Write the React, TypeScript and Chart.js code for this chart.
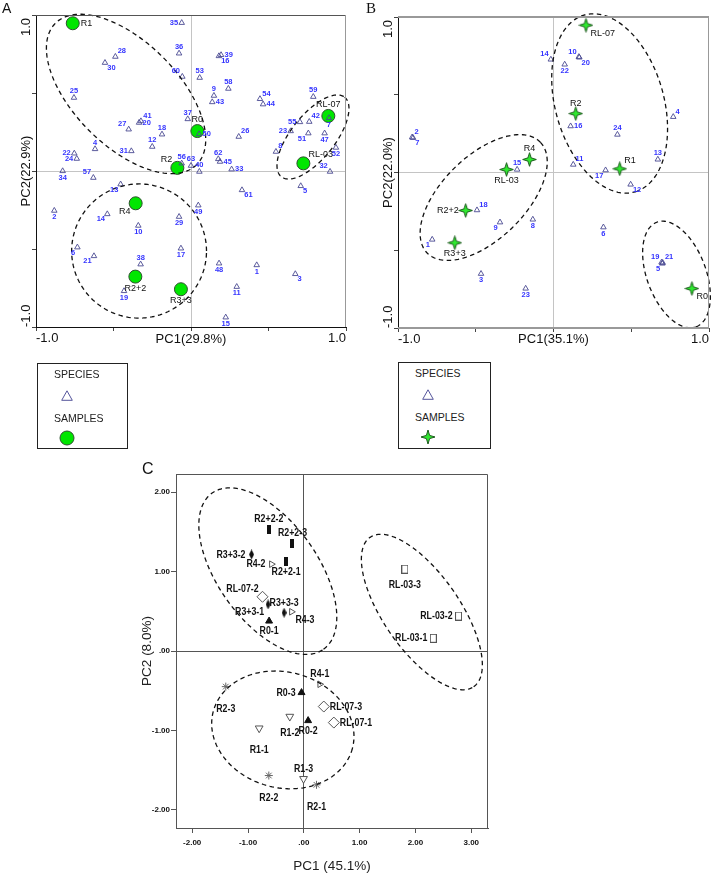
import React, { useEffect, useRef } from "react";
import { Chart, registerables } from "chart.js";
Chart.register(...registerables);

const SANS = "'Liberation Sans', Arial, sans-serif";
const SERIF = "'Liberation Serif', 'Times New Roman', serif";

// ---------------- Panel A data ----------------
const speciesANames = ["1","2","3","4","5","6","7","8","9","10","11","12","13","14","15","16","17","18","19","20","21","22","23","24","25","26","27","28","29","30","31","32","33","34","35","36","37","38","39","40","41","42","43","44","45","47","48","49","50","51","52","53","54","55","56","57","58","59","60","61","62","63"];
const speciesAX = [0.424,-0.882,0.673,-0.619,0.708,-0.733,0.89,0.548,0.148,-0.34,0.295,-0.25,-0.454,-0.54,0.224,0.18,-0.065,-0.187,-0.432,-0.335,-0.626,-0.753,0.643,-0.737,-0.755,0.308,-0.402,-0.488,-0.077,-0.555,-0.385,0.897,0.262,-0.828,-0.06,-0.077,-0.021,-0.325,0.194,0.054,-0.323,0.763,0.137,0.465,0.187,0.862,0.181,0.047,0.052,0.757,0.935,0.056,0.445,0.703,-0.06,-0.63,0.241,0.789,-0.056,0.329,0.176,0.0];
const speciesAY = [-0.603,-0.254,-0.66,0.141,-0.096,-0.489,0.34,0.124,0.483,-0.35,-0.742,0.156,-0.085,-0.276,-0.938,0.737,-0.496,0.235,-0.769,0.31,-0.545,0.113,0.256,0.079,0.47,0.22,0.267,0.733,-0.293,0.694,0.128,-0.004,0.011,0.0,0.95,0.754,0.333,-0.598,0.744,-0.004,0.32,0.316,0.442,0.428,0.06,0.242,-0.592,-0.22,0.237,0.242,0.15,0.598,0.462,0.314,0.049,-0.043,0.528,0.476,0.605,-0.122,0.077,0.034];
const speciesALabelPos = ["b","b","br","a","br","bl","b","ar","a","b","b","a","bl","bl","b","br","b","a","b","r","bl","l","l","l","a","ar","al","ar","b","br","l","al","r","b","l","a","a","a","r","a","ar","ar","r","r","r","b","b","b","r","bl","b","a","ar","l","a","al","a","a","al","br","a","a"];
const samplesANames = ["R1","R0","R2","RL-07","RL-03","R4","R2+2","R3+3"];
const samplesAX = [-0.763,0.041,-0.088,0.886,0.725,-0.357,-0.359,-0.065];
const samplesAY = [0.947,0.256,0.02,0.353,0.049,-0.207,-0.677,-0.758];
const samplesALabelPos = ["r","a","al","a","ar","bl","b","b"];
// ellipse: centre x, centre y, first semi-axis (x,y), second semi-axis (x,y) in data units
const ellipseA1 = [-0.419,0.494,0.456,-0.453,-0.237,-0.236];
const ellipseA2 = [-0.335,-0.513,0.435,0,0,0.43];
const ellipseA3 = [0.787,0.218,0.204,0.255,0.111,-0.087];
const axisTicksAB = [-1,1];
const axisTickLabelsAB = ["-1.0","1.0"];

// ---------------- Panel B data ----------------
const speciesBNames = ["1","2","3","4","5","6","7","8","9","10","11","12","13","14","15","16","17","18","19","20","21","22","23","24"];
const speciesBX = [-0.78,-0.909,-0.466,0.77,0.7,0.321,-0.903,-0.133,-0.344,0.163,0.127,0.496,0.671,-0.017,-0.234,0.11,0.335,-0.492,0.695,0.166,0.702,0.072,-0.179,0.411];
const speciesBY = [-0.431,0.227,-0.651,0.358,-0.585,-0.352,0.223,-0.302,-0.32,0.744,0.051,-0.077,0.084,0.727,0.019,0.298,0.015,-0.242,-0.578,0.74,-0.58,0.695,-0.746,0.244];
const speciesBLabelPos = ["bl","ar","b","ar","bl","b","br","b","bl","al","ar","br","a","al","a","r","bl","ar","al","br","ar","b","b","a"];
const samplesBNames = ["RL-07","R2","R4","RL-03","R1","R2+2","R3+3","R0"];
const samplesBX = [0.209,0.143,-0.154,-0.302,0.426,-0.565,-0.635,0.89];
const samplesBY = [0.947,0.379,0.084,0.019,0.024,-0.244,-0.452,-0.746];
const samplesBLabelPos = ["br","a","a","b","ar","l","b","br"];
const ellipseB1 = [-0.449,-0.161,0.365,0.355,0.184,-0.194];
const ellipseB2 = [0.361,0.444,0.165,-0.568,0.334,0.1];
const ellipseB3 = [0.791,-0.656,0.127,-0.336,0.177,0.069];

// ---------------- Panel C data ----------------
const groupR22Names = ["R2+2-1","R2+2-2","R2+2-3"];
const groupR22X = [-0.317,-0.627,-0.203];
const groupR22Y = [1.123,1.535,1.355];
const groupR22Pos = ["b","a","a"];
const groupR33Names = ["R3+3-1","R3+3-2","R3+3-3"];
const groupR33X = [-0.64,-0.937,-0.353];
const groupR33Y = [0.587,1.216,0.482];
const groupR33Pos = ["bl","l","a"];
const groupR4Names = ["R4-1","R4-2","R4-3"];
const groupR4X = [0.287,-0.579,-0.22];
const groupR4Y = [-0.419,1.094,0.494];
const groupR4Pos = ["a","l","br"];
const groupRL07Names = ["RL-07-1","RL-07-2","RL-07-3"];
const groupRL07X = [0.538,-0.74,0.358];
const groupRL07Y = [-0.902,0.683,-0.7];
const groupRL07Pos = ["r","al","r"];
const groupR0Names = ["R0-1","R0-2","R0-3"];
const groupR0X = [-0.622,0.077,-0.041];
const groupR0Y = [0.377,-0.877,-0.524];
const groupR0Pos = ["b","b","l"];
const groupRL03Names = ["RL-03-1","RL-03-2","RL-03-3"];
const groupRL03X = [2.32,2.772,1.81];
const groupRL03Y = [0.16,0.44,1.031];
const groupRL03Pos = ["l","l","bb"];
const groupR1Names = ["R1-1","R1-2","R1-3"];
const groupR1X = [-0.8,-0.251,-0.005];
const groupR1Y = [-0.973,-0.826,-1.61];
const groupR1Pos = ["bbb","bb","a"];
const groupR2Names = ["R2-1","R2-2","R2-3"];
const groupR2X = [0.227,-0.627,-1.398];
const groupR2Y = [-1.686,-1.569,-0.449];
const groupR2Pos = ["bbb","bbb","bbb"];
const ellipseC1 = [-0.645,1.006,0.998,-0.984,0.729,0.365];
const ellipseC2 = [2.115,0.491,0.928,-0.941,0.56,0.272];
const ellipseC3 = [-0.376,-0.994,1.246,-0.234,-0.269,-0.704];

// ---------------- helpers ----------------
const pts = (xs: number[], ys: number[]) => xs.map((x, i) => ({ x, y: ys[i] }));

function markerCanvas(w: number, h: number, draw: (g: CanvasRenderingContext2D) => void) {
  const c = document.createElement("canvas");
  c.width = w; c.height = h;
  draw(c.getContext("2d")!);
  return c;
}

const labelPlugin = {
  id: "pointLabels",
  afterDatasetsDraw(chart: any) {
    const ctx = chart.ctx;
    chart.data.datasets.forEach((ds: any, di: number) => {
      if (!ds.labels) return;
      const meta = chart.getDatasetMeta(di);
      const sx = ds.labelScaleX || 1;
      ctx.save();
      ctx.font = ds.labelFont;
      ctx.fillStyle = ds.labelColor;
      ctx.textBaseline = "middle";
      const g = ds.labelGap;
      const h = ds.labelHeight;
      meta.data.forEach((el: any, i: number) => {
        const pos = ds.labelPos[i];
        let x = el.x, y = el.y, align: CanvasTextAlign = "center";
        const d = g * 0.65;
        switch (pos) {
          case "a": y -= g + h / 2; break;
          case "b": y += g + h / 2; break;
          case "bb": y += 2 * g + h / 2; break;
          case "bbb": y += 3 * g + h / 2; break;
          case "l": x -= g; align = "right"; break;
          case "r": x += g; align = "left"; break;
          case "al": x -= d; y -= d + h / 2; align = "right"; break;
          case "ar": x += d; y -= d + h / 2; align = "left"; break;
          case "bl": x -= d; y += d + h / 2; align = "right"; break;
          case "br": x += d; y += d + h / 2; align = "left"; break;
        }
        ctx.textAlign = align;
        ctx.save();
        ctx.translate(x, y);
        ctx.scale(sx, 1);
        ctx.fillText(ds.labels[i], 0, 0);
        ctx.restore();
      });
      ctx.restore();
    });
  },
};

function ellipsePlugin(list: number[][]) {
  return {
    id: "ellipses",
    afterDatasetsDraw(chart: any) {
      const { ctx } = chart;
      const xs = chart.scales.x, ys = chart.scales.y;
      ctx.save();
      ctx.setLineDash([4.5, 3.5]);
      ctx.lineWidth = 1.3;
      ctx.strokeStyle = "#111";
      list.forEach((e) => {
        const [cx, cy, ux, uy, vx, vy] = e;
        ctx.beginPath();
        for (let k = 0; k <= 200; k++) {
          const t = (k / 200) * Math.PI * 2;
          const px = xs.getPixelForValue(cx + ux * Math.cos(t) + vx * Math.sin(t));
          const py = ys.getPixelForValue(cy + uy * Math.cos(t) + vy * Math.sin(t));
          if (k === 0) ctx.moveTo(px, py); else ctx.lineTo(px, py);
        }
        ctx.closePath();
        ctx.stroke();
      });
      ctx.restore();
    },
  };
}

function framePlugin(kind: "A" | "B" | "C", yLabelX: number) {
  return {
    id: "frame",
    afterDraw(chart: any) {
      const { ctx, chartArea: ca } = chart;
      const ys = chart.scales.y;
      ctx.save();
      ctx.setLineDash([]);
      if (kind === "A") {
        ctx.strokeStyle = "#555"; ctx.lineWidth = 1;
        ctx.beginPath(); ctx.moveTo(ca.left, ca.top + 0.5); ctx.lineTo(ca.right, ca.top + 0.5); ctx.stroke();
        ctx.strokeStyle = "#999";
        ctx.beginPath(); ctx.moveTo(ca.right - 0.5, ca.top); ctx.lineTo(ca.right - 0.5, ca.bottom); ctx.stroke();
      } else if (kind === "B") {
        ctx.strokeStyle = "#999"; ctx.lineWidth = 2;
        ctx.beginPath(); ctx.moveTo(ca.left, ca.top); ctx.lineTo(ca.right, ca.top); ctx.stroke();
        ctx.beginPath(); ctx.moveTo(ca.left, ca.bottom); ctx.lineTo(ca.right, ca.bottom); ctx.stroke();
        ctx.lineWidth = 1;
        ctx.beginPath(); ctx.moveTo(ca.right - 0.5, ca.top); ctx.lineTo(ca.right - 0.5, ca.bottom); ctx.stroke();
      } else {
        ctx.strokeStyle = "#555"; ctx.lineWidth = 1;
        ctx.beginPath(); ctx.moveTo(ca.left, ca.top + 0.5); ctx.lineTo(ca.right - 0.5, ca.top + 0.5); ctx.lineTo(ca.right - 0.5, ca.bottom); ctx.stroke();
      }
      if (kind !== "C") {
        ctx.fillStyle = "#111";
        ctx.font = `13px ${SANS}`;
        ctx.textBaseline = "middle";
        axisTicksAB.forEach((v, i) => {
          ctx.save();
          ctx.translate(yLabelX, ys.getPixelForValue(v));
          ctx.rotate(-Math.PI / 2);
          ctx.textAlign = v < 0 ? "left" : "right";
          ctx.fillText(axisTickLabelsAB[i], v < 0 ? 0 : -3, 0);
          ctx.restore();
        });
      }
      ctx.restore();
    },
  };
}

function abScales(xTitle: string, yTitle: string, yWidth: number, yTitlePad: number, xTitlePad: number, borderXColor: string, showXBorder: boolean) {
  const gridColor = (c: any) => (c.tick && c.tick.value === 0 ? "#c4c4c4" : "rgba(0,0,0,0)");
  return {
    x: {
      type: "linear", min: -1, max: 1,
      ticks: {
        stepSize: 0.5, autoSkip: false, maxRotation: 0, align: "inner", padding: 0,
        color: "#111", font: { family: SANS, size: 13 },
        callback: (v: number) => { const i = axisTicksAB.indexOf(v); return i >= 0 ? axisTickLabelsAB[i] : ""; },
      },
      grid: { color: gridColor, tickColor: "#444", tickLength: 4, lineWidth: 1 },
      border: { display: showXBorder, color: borderXColor, width: 1 },
      title: { display: true, text: xTitle, color: "#111", font: { family: SANS, size: 13 }, padding: { top: 0, bottom: xTitlePad } },
      afterFit: (s: any) => { s.height = 25; },
    },
    y: {
      type: "linear", min: -1, max: 1,
      ticks: { stepSize: 0.5, display: false },
      grid: { color: gridColor, tickColor: "#444", tickLength: 4, lineWidth: 1 },
      border: { display: true, color: "#111", width: 1 },
      title: { display: true, text: yTitle, color: "#111", font: { family: SANS, size: 13 }, padding: { top: yTitlePad, bottom: 0 } },
      afterFit: (s: any) => { s.width = yWidth; },
    },
  };
}

const baseOptions = {
  animation: false,
  responsive: false,
  maintainAspectRatio: false,
  devicePixelRatio: 1,
  events: [],
};

function buildA(): any {
  return {
    type: "scatter",
    data: {
      datasets: [
        {
          label: "SPECIES", data: pts(speciesAX, speciesAY),
          pointStyle: "triangle", pointRadius: 3.2, pointBorderWidth: 0.9,
          pointBorderColor: "#4a4a92", pointBackgroundColor: "rgba(255,255,255,0)",
          labels: speciesANames, labelPos: speciesALabelPos,
          labelFont: `bold 7.5px ${SANS}`, labelColor: "#3434ff", labelGap: 3.5, labelHeight: 6,
        },
        {
          label: "SAMPLES", data: pts(samplesAX, samplesAY),
          pointStyle: "circle", pointRadius: 6.5, pointBorderWidth: 1,
          pointBorderColor: "#2f4f2f", pointBackgroundColor: "#00e600",
          labels: samplesANames, labelPos: samplesALabelPos,
          labelFont: `9px ${SANS}`, labelColor: "#111", labelGap: 8, labelHeight: 7,
        },
      ],
    },
    options: {
      ...baseOptions,
      layout: { padding: { left: 0, top: 15, right: 14, bottom: 8 } },
      plugins: { legend: { display: false }, tooltip: { enabled: false } },
      scales: abScales("PC1(29.8%)", "PC2(22.9%)", 36, 18.2, 5.2, "#111", true),
    },
    plugins: [ellipsePlugin([ellipseA1, ellipseA2, ellipseA3]), labelPlugin, framePlugin("A", 26)],
  };
}

function starMarker() {
  return markerCanvas(15, 15, (g) => {
    g.beginPath();
    for (let k = 0; k < 8; k++) {
      const a = -Math.PI / 2 + (k * Math.PI) / 4;
      const r = k % 2 === 0 ? 6.8 : 2.3;
      g.lineTo(7.5 + r * Math.cos(a), 7.5 + r * Math.sin(a));
    }
    g.closePath();
    g.fillStyle = "#2fe82f"; g.fill();
    g.strokeStyle = "#1d5a1d"; g.lineWidth = 1; g.stroke();
  });
}

function buildB(): any {
  return {
    type: "scatter",
    data: {
      datasets: [
        {
          label: "SPECIES", data: pts(speciesBX, speciesBY),
          pointStyle: "triangle", pointRadius: 3.2, pointBorderWidth: 0.9,
          pointBorderColor: "#4a4a92", pointBackgroundColor: "rgba(255,255,255,0)",
          labels: speciesBNames, labelPos: speciesBLabelPos,
          labelFont: `bold 7.5px ${SANS}`, labelColor: "#3434ff", labelGap: 3.5, labelHeight: 6,
        },
        {
          label: "SAMPLES", data: pts(samplesBX, samplesBY),
          pointStyle: starMarker(), pointRadius: 7,
          labels: samplesBNames, labelPos: samplesBLabelPos,
          labelFont: `9px ${SANS}`, labelColor: "#111", labelGap: 7, labelHeight: 7,
        },
      ],
    },
    options: {
      ...baseOptions,
      layout: { padding: { left: 0, top: 17, right: 3, bottom: 7 } },
      plugins: { legend: { display: false }, tooltip: { enabled: false } },
      scales: abScales("PC1(35.1%)", "PC2(22.0%)", 38, 20.2, 6.2, "#999", false),
    },
    plugins: [ellipsePlugin([ellipseB1, ellipseB2, ellipseB3]), labelPlugin, framePlugin("B", 28)],
  };
}

function buildC(): any {
  const bar = markerCanvas(4, 9, (g) => { g.fillStyle = "#111"; g.fillRect(0, 0, 4, 9); });
  const thinDiamond = markerCanvas(5, 10, (g) => {
    g.beginPath(); g.moveTo(2.5, 0); g.lineTo(5, 5); g.lineTo(2.5, 10); g.lineTo(0, 5); g.closePath();
    g.fillStyle = "#111"; g.fill();
  });
  const openRect = markerCanvas(7, 9, (g) => {
    g.fillStyle = "#fff"; g.fillRect(0, 0, 7, 9);
    g.strokeStyle = "#555"; g.lineWidth = 1; g.strokeRect(0.5, 0.5, 6, 8);
  });
  const lab = { labelFont: `bold 11px ${SANS}`, labelScaleX: 0.8, labelColor: "#111", labelGap: 6, labelHeight: 8 };
  const open = { pointBackgroundColor: "#fff", pointBorderColor: "#555", pointBorderWidth: 1 };
  const tickFmt = (v: number) => (v === 0 ? ".00" : v.toFixed(2));
  const zeroGrid = (c: any) => (c.tick && c.tick.value === 0 ? "#555" : "rgba(0,0,0,0)");
  return {
    type: "scatter",
    data: {
      datasets: [
        { label: "R2+2", data: pts(groupR22X, groupR22Y), pointStyle: bar, pointRadius: 5, labels: groupR22Names, labelPos: groupR22Pos, ...lab },
        { label: "R3+3", data: pts(groupR33X, groupR33Y), pointStyle: thinDiamond, pointRadius: 5, labels: groupR33Names, labelPos: groupR33Pos, ...lab },
        { label: "R4", data: pts(groupR4X, groupR4Y), pointStyle: "triangle", rotation: 90, pointRadius: 3.8, ...open, labels: groupR4Names, labelPos: groupR4Pos, ...lab },
        { label: "RL-07", data: pts(groupRL07X, groupRL07Y), pointStyle: "rectRot", pointRadius: 5.5, ...open, labels: groupRL07Names, labelPos: groupRL07Pos, ...lab },
        { label: "R0", data: pts(groupR0X, groupR0Y), pointStyle: "triangle", pointRadius: 4, pointBackgroundColor: "#111", pointBorderColor: "#111", pointBorderWidth: 1, labels: groupR0Names, labelPos: groupR0Pos, ...lab },
        { label: "RL-03", data: pts(groupRL03X, groupRL03Y), pointStyle: openRect, pointRadius: 5, labels: groupRL03Names, labelPos: groupRL03Pos, ...lab },
        { label: "R1", data: pts(groupR1X, groupR1Y), pointStyle: "triangle", rotation: 180, pointRadius: 4.5, ...open, labels: groupR1Names, labelPos: groupR1Pos, ...lab },
        { label: "R2", data: pts(groupR2X, groupR2Y), pointStyle: "star", pointRadius: 4, pointBorderColor: "#666", pointBorderWidth: 1, labels: groupR2Names, labelPos: groupR2Pos, ...lab },
      ],
    },
    options: {
      ...baseOptions,
      layout: { padding: { left: 0, top: 14, right: 12, bottom: 1 } },
      plugins: { legend: { display: false }, tooltip: { enabled: false } },
      scales: {
        x: {
          type: "linear", min: -2.29, max: 3.3,
          ticks: { stepSize: 1, includeBounds: false, autoSkip: false, maxRotation: 0, padding: 5, color: "#111", font: { family: SANS, size: 8, weight: "bold" }, callback: tickFmt },
          grid: { color: zeroGrid, tickColor: "#555", tickLength: 5, lineWidth: 1 },
          border: { display: true, color: "#555", width: 1 },
          title: { display: true, text: "PC1 (45.1%)", color: "#222", font: { family: SANS, size: 13.5 }, padding: { top: 0, bottom: 0 } },
          afterFit: (s: any) => { s.height = 46; },
        },
        y: {
          type: "linear", min: -2.23, max: 2.23,
          ticks: { stepSize: 1, includeBounds: false, padding: 1, color: "#111", font: { family: SANS, size: 8, weight: "bold" }, callback: tickFmt },
          grid: { color: zeroGrid, tickColor: "#555", tickLength: 5, lineWidth: 1 },
          border: { display: true, color: "#555", width: 1 },
          title: { display: true, text: "PC2 (8.0%)", color: "#222", font: { family: SANS, size: 13.5 }, padding: { top: 19, bottom: 0 } },
          afterFit: (s: any) => { s.width = 56; },
        },
      },
    },
    plugins: [ellipsePlugin([ellipseC1, ellipseC2, ellipseC3]), labelPlugin, framePlugin("C", 0)],
  };
}

function ChartCanvas(props: { left: number; top: number; width: number; height: number; build: () => any }) {
  const ref = useRef<HTMLCanvasElement>(null);
  useEffect(() => {
    const chart = new Chart(ref.current as HTMLCanvasElement, props.build());
    return () => chart.destroy();
  }, []);
  const { left, top, width, height } = props;
  return <canvas ref={ref} width={width} height={height} style={{ position: "absolute", left, top, width, height }} />;
}

function Text(props: { x: number; cy: number; size: number; family?: string; children: any }) {
  const lh = Math.round(props.size * 1.2);
  return (
    <div style={{ position: "absolute", left: props.x, top: props.cy - lh / 2, lineHeight: `${lh}px`, fontSize: props.size, fontFamily: props.family || SANS, color: "#222", whiteSpace: "nowrap" }}>
      {props.children}
    </div>
  );
}

function Legend(props: { left: number; top: number; width: number; height: number; star: boolean }) {
  const { left, top, width, height, star } = props;
  const tx = left + 17;
  const mx = left + 30;
  return (
    <>
      <div style={{ position: "absolute", left, top, width, height, border: "1px solid #222", boxSizing: "border-box" }} />
      <Text x={tx} cy={top + 11} size={10.5}>SPECIES</Text>
      <svg style={{ position: "absolute", left: mx - 6, top: top + 27 }} width={12} height={11}>
        <polygon points="6,0.8 11.3,10.3 0.7,10.3" fill="none" stroke="#55559c" strokeWidth={1} />
      </svg>
      <Text x={tx} cy={top + 55} size={10.5}>SAMPLES</Text>
      <svg style={{ position: "absolute", left: mx - 8, top: top + 67 }} width={16} height={16}>
        {star ? (
          <polygon points="8,1 9.6,6.4 15,8 9.6,9.6 8,15 6.4,9.6 1,8 6.4,6.4" fill="#2fe82f" stroke="#1d5a1d" strokeWidth={1} />
        ) : (
          <circle cx={8} cy={8} r={7} fill="#00e600" stroke="#2f4f2f" strokeWidth={1} />
        )}
      </svg>
    </>
  );
}

export default function App() {
  return (
    <div style={{ position: "absolute", left: 0, top: 0, width: 717, height: 875, background: "#fff", overflow: "hidden" }}>
      <ChartCanvas left={0} top={0} width={360} height={360} build={buildA} />
      <ChartCanvas left={360} top={0} width={357} height={360} build={buildB} />
      <ChartCanvas left={120} top={460} width={380} height={415} build={buildC} />
      <div style={{ position: "absolute", left: 2, top: 0, fontFamily: SANS, fontSize: 14, lineHeight: "16px", color: "#111" }}>A</div>
      <div style={{ position: "absolute", left: 366, top: 0, fontFamily: SERIF, fontSize: 15, lineHeight: "16px", color: "#111" }}>B</div>
      <div style={{ position: "absolute", left: 142, top: 460, fontFamily: SANS, fontSize: 16, lineHeight: "18px", color: "#111" }}>C</div>
      <Legend left={37} top={363} width={91} height={86} star={false} />
      <Legend left={398} top={362} width={93} height={87} star={true} />
    </div>
  );
}
